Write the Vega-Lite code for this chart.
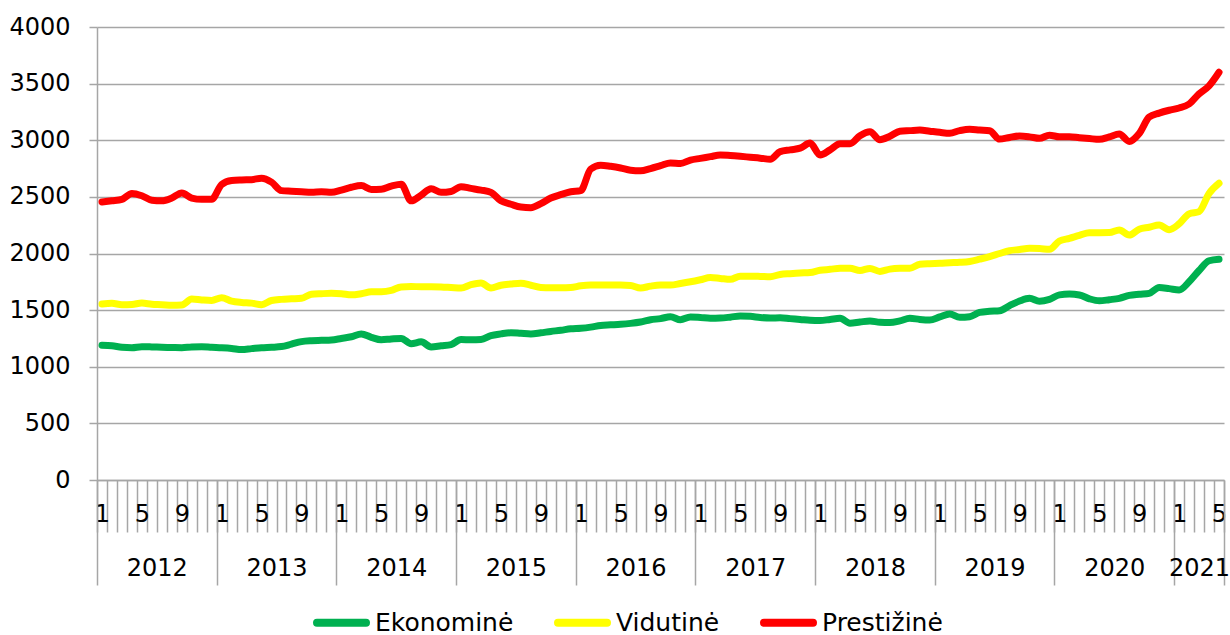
{
"$schema": "https://vega.github.io/schema/vega-lite/v6.json",
"width": 1127, "height": 453,
"autosize": {"type": "none"},
"padding": {"left": 97, "top": 27, "right": 6, "bottom": 155},
"background": "white",
"config": {"view": {"stroke": null}, "font": "DejaVu Sans"},
"data": {"values": [
{"d":"2012-01","Ekonominė":1190,"Vidutinė":1555,"Prestižinė":2455},
{"d":"2012-02","Ekonominė":1185,"Vidutinė":1560,"Prestižinė":2465},
{"d":"2012-03","Ekonominė":1172,"Vidutinė":1548,"Prestižinė":2478},
{"d":"2012-04","Ekonominė":1168,"Vidutinė":1550,"Prestižinė":2530},
{"d":"2012-05","Ekonominė":1177,"Vidutinė":1562,"Prestižinė":2510},
{"d":"2012-06","Ekonominė":1175,"Vidutinė":1552,"Prestižinė":2470},
{"d":"2012-07","Ekonominė":1172,"Vidutinė":1548,"Prestižinė":2465},
{"d":"2012-08","Ekonominė":1170,"Vidutinė":1542,"Prestižinė":2490},
{"d":"2012-09","Ekonominė":1168,"Vidutinė":1545,"Prestižinė":2535},
{"d":"2012-10","Ekonominė":1175,"Vidutinė":1598,"Prestižinė":2490},
{"d":"2012-11","Ekonominė":1177,"Vidutinė":1590,"Prestižinė":2478},
{"d":"2012-12","Ekonominė":1172,"Vidutinė":1585,"Prestižinė":2480},
{"d":"2013-01","Ekonominė":1168,"Vidutinė":1610,"Prestižinė":2610},
{"d":"2013-02","Ekonominė":1162,"Vidutinė":1580,"Prestižinė":2645},
{"d":"2013-03","Ekonominė":1152,"Vidutinė":1568,"Prestižinė":2650},
{"d":"2013-04","Ekonominė":1160,"Vidutinė":1562,"Prestižinė":2652},
{"d":"2013-05","Ekonominė":1168,"Vidutinė":1548,"Prestižinė":2665},
{"d":"2013-06","Ekonominė":1172,"Vidutinė":1585,"Prestižinė":2630},
{"d":"2013-07","Ekonominė":1178,"Vidutinė":1595,"Prestižinė":2555},
{"d":"2013-08","Ekonominė":1200,"Vidutinė":1600,"Prestižinė":2550},
{"d":"2013-09","Ekonominė":1222,"Vidutinė":1605,"Prestižinė":2545},
{"d":"2013-10","Ekonominė":1230,"Vidutinė":1640,"Prestižinė":2540},
{"d":"2013-11","Ekonominė":1233,"Vidutinė":1645,"Prestižinė":2545},
{"d":"2013-12","Ekonominė":1236,"Vidutinė":1648,"Prestižinė":2540},
{"d":"2014-01","Ekonominė":1250,"Vidutinė":1645,"Prestižinė":2560},
{"d":"2014-02","Ekonominė":1265,"Vidutinė":1635,"Prestižinė":2585},
{"d":"2014-03","Ekonominė":1290,"Vidutinė":1645,"Prestižinė":2600},
{"d":"2014-04","Ekonominė":1260,"Vidutinė":1662,"Prestižinė":2565},
{"d":"2014-05","Ekonominė":1238,"Vidutinė":1663,"Prestižinė":2567},
{"d":"2014-06","Ekonominė":1245,"Vidutinė":1675,"Prestižinė":2595},
{"d":"2014-07","Ekonominė":1250,"Vidutinė":1705,"Prestižinė":2612},
{"d":"2014-08","Ekonominė":1203,"Vidutinė":1708,"Prestižinė":2465},
{"d":"2014-09","Ekonominė":1220,"Vidutinė":1707,"Prestižinė":2515},
{"d":"2014-10","Ekonominė":1175,"Vidutinė":1707,"Prestižinė":2572},
{"d":"2014-11","Ekonominė":1185,"Vidutinė":1705,"Prestižinė":2540},
{"d":"2014-12","Ekonominė":1195,"Vidutinė":1700,"Prestižinė":2548},
{"d":"2015-01","Ekonominė":1240,"Vidutinė":1695,"Prestižinė":2590},
{"d":"2015-02","Ekonominė":1238,"Vidutinė":1725,"Prestižinė":2575},
{"d":"2015-03","Ekonominė":1240,"Vidutinė":1740,"Prestižinė":2560},
{"d":"2015-04","Ekonominė":1275,"Vidutinė":1695,"Prestižinė":2540},
{"d":"2015-05","Ekonominė":1290,"Vidutinė":1720,"Prestižinė":2465},
{"d":"2015-06","Ekonominė":1300,"Vidutinė":1730,"Prestižinė":2435},
{"d":"2015-07","Ekonominė":1295,"Vidutinė":1737,"Prestižinė":2410},
{"d":"2015-08","Ekonominė":1290,"Vidutinė":1720,"Prestižinė":2405},
{"d":"2015-09","Ekonominė":1300,"Vidutinė":1700,"Prestižinė":2440},
{"d":"2015-10","Ekonominė":1312,"Vidutinė":1698,"Prestižinė":2490},
{"d":"2015-11","Ekonominė":1322,"Vidutinė":1698,"Prestižinė":2520},
{"d":"2015-12","Ekonominė":1335,"Vidutinė":1700,"Prestižinė":2545},
{"d":"2016-01","Ekonominė":1340,"Vidutinė":1715,"Prestižinė":2555},
{"d":"2016-02","Ekonominė":1350,"Vidutinė":1722,"Prestižinė":2745},
{"d":"2016-03","Ekonominė":1365,"Vidutinė":1722,"Prestižinė":2780},
{"d":"2016-04","Ekonominė":1370,"Vidutinė":1722,"Prestižinė":2770},
{"d":"2016-05","Ekonominė":1375,"Vidutinė":1722,"Prestižinė":2755},
{"d":"2016-06","Ekonominė":1383,"Vidutinė":1718,"Prestižinė":2735},
{"d":"2016-07","Ekonominė":1395,"Vidutinė":1695,"Prestižinė":2730},
{"d":"2016-08","Ekonominė":1415,"Vidutinė":1712,"Prestižinė":2750},
{"d":"2016-09","Ekonominė":1425,"Vidutinė":1722,"Prestižinė":2775},
{"d":"2016-10","Ekonominė":1442,"Vidutinė":1722,"Prestižinė":2800},
{"d":"2016-11","Ekonominė":1415,"Vidutinė":1735,"Prestižinė":2795},
{"d":"2016-12","Ekonominė":1440,"Vidutinė":1750,"Prestižinė":2825},
{"d":"2017-01","Ekonominė":1435,"Vidutinė":1768,"Prestižinė":2840},
{"d":"2017-02","Ekonominė":1428,"Vidutinė":1788,"Prestižinė":2855},
{"d":"2017-03","Ekonominė":1430,"Vidutinė":1780,"Prestižinė":2870},
{"d":"2017-04","Ekonominė":1438,"Vidutinė":1772,"Prestižinė":2865},
{"d":"2017-05","Ekonominė":1448,"Vidutinė":1800,"Prestižinė":2858},
{"d":"2017-06","Ekonominė":1445,"Vidutinė":1800,"Prestižinė":2850},
{"d":"2017-07","Ekonominė":1435,"Vidutinė":1798,"Prestižinė":2842},
{"d":"2017-08","Ekonominė":1430,"Vidutinė":1795,"Prestižinė":2832},
{"d":"2017-09","Ekonominė":1433,"Vidutinė":1815,"Prestižinė":2900},
{"d":"2017-10","Ekonominė":1425,"Vidutinė":1822,"Prestižinė":2915},
{"d":"2017-11","Ekonominė":1418,"Vidutinė":1828,"Prestižinė":2930},
{"d":"2017-12","Ekonominė":1410,"Vidutinė":1832,"Prestižinė":2975},
{"d":"2018-01","Ekonominė":1408,"Vidutinė":1852,"Prestižinė":2870},
{"d":"2018-02","Ekonominė":1418,"Vidutinė":1860,"Prestižinė":2915},
{"d":"2018-03","Ekonominė":1428,"Vidutinė":1870,"Prestižinė":2970},
{"d":"2018-04","Ekonominė":1385,"Vidutinė":1869,"Prestižinė":2970},
{"d":"2018-05","Ekonominė":1395,"Vidutinė":1850,"Prestižinė":3040},
{"d":"2018-06","Ekonominė":1404,"Vidutinė":1868,"Prestižinė":3075},
{"d":"2018-07","Ekonominė":1392,"Vidutinė":1842,"Prestižinė":3005},
{"d":"2018-08","Ekonominė":1390,"Vidutinė":1862,"Prestižinė":3035},
{"d":"2018-09","Ekonominė":1405,"Vidutinė":1869,"Prestižinė":3080},
{"d":"2018-10","Ekonominė":1428,"Vidutinė":1870,"Prestižinė":3085},
{"d":"2018-11","Ekonominė":1418,"Vidutinė":1905,"Prestižinė":3090},
{"d":"2018-12","Ekonominė":1413,"Vidutinė":1910,"Prestižinė":3080},
{"d":"2019-01","Ekonominė":1440,"Vidutinė":1913,"Prestižinė":3070},
{"d":"2019-02","Ekonominė":1466,"Vidutinė":1918,"Prestižinė":3062},
{"d":"2019-03","Ekonominė":1437,"Vidutinė":1922,"Prestižinė":3085},
{"d":"2019-04","Ekonominė":1442,"Vidutinė":1930,"Prestižinė":3097},
{"d":"2019-05","Ekonominė":1480,"Vidutinė":1950,"Prestižinė":3090},
{"d":"2019-06","Ekonominė":1490,"Vidutinė":1972,"Prestižinė":3084},
{"d":"2019-07","Ekonominė":1495,"Vidutinė":2000,"Prestižinė":3010},
{"d":"2019-08","Ekonominė":1540,"Vidutinė":2025,"Prestižinė":3025},
{"d":"2019-09","Ekonominė":1580,"Vidutinė":2035,"Prestižinė":3037},
{"d":"2019-10","Ekonominė":1604,"Vidutinė":2046,"Prestižinė":3030},
{"d":"2019-11","Ekonominė":1578,"Vidutinė":2044,"Prestižinė":3017},
{"d":"2019-12","Ekonominė":1595,"Vidutinė":2037,"Prestižinė":3045},
{"d":"2020-01","Ekonominė":1635,"Vidutinė":2110,"Prestižinė":3030},
{"d":"2020-02","Ekonominė":1642,"Vidutinė":2134,"Prestižinė":3032},
{"d":"2020-03","Ekonominė":1634,"Vidutinė":2160,"Prestižinė":3023},
{"d":"2020-04","Ekonominė":1600,"Vidutinė":2184,"Prestižinė":3015},
{"d":"2020-05","Ekonominė":1582,"Vidutinė":2184,"Prestižinė":3008},
{"d":"2020-06","Ekonominė":1592,"Vidutinė":2185,"Prestižinė":3030},
{"d":"2020-07","Ekonominė":1604,"Vidutinė":2208,"Prestižinė":3055},
{"d":"2020-08","Ekonominė":1630,"Vidutinė":2163,"Prestižinė":2990},
{"d":"2020-09","Ekonominė":1640,"Vidutinė":2215,"Prestižinė":3060},
{"d":"2020-10","Ekonominė":1648,"Vidutinė":2232,"Prestižinė":3205},
{"d":"2020-11","Ekonominė":1700,"Vidutinė":2252,"Prestižinė":3240},
{"d":"2020-12","Ekonominė":1690,"Vidutinė":2210,"Prestižinė":3265},
{"d":"2021-01","Ekonominė":1678,"Vidutinė":2262,"Prestižinė":3285},
{"d":"2021-02","Ekonominė":1750,"Vidutinė":2350,"Prestižinė":3320},
{"d":"2021-03","Ekonominė":1850,"Vidutinė":2370,"Prestižinė":3410},
{"d":"2021-04","Ekonominė":1936,"Vidutinė":2530,"Prestižinė":3480},
{"d":"2021-05","Ekonominė":1950,"Vidutinė":2620,"Prestižinė":3600}
]},
"transform": [{"fold": ["Ekonominė", "Vidutinė", "Prestižinė"], "as": ["series", "value"]}],
"encoding": {
  "y": {"field": "value", "type": "quantitative",
    "scale": {"domain": [0, 4000]},
    "axis": {"title": null, "values": [0, 500, 1000, 1500, 2000, 2500, 3000, 3500, 4000], "format": "d",
      "grid": true, "gridColor": "#A6A6A6", "gridWidth": 1.5,
      "tickSize": 8, "tickColor": "#A6A6A6", "tickWidth": 1.5,
      "domainColor": "#A6A6A6", "domainWidth": 1.5,
      "labelFontSize": 24, "labelPadding": 19, "labelColor": "black"}}
},
"layer": [
  {
    "mark": {"type": "line", "strokeWidth": 7, "interpolate": "monotone", "strokeCap": "round", "strokeJoin": "round"},
    "encoding": {
      "x": {"field": "d", "type": "ordinal", "bandPosition": 0.5,
        "scale": {"type": "band", "paddingInner": 0, "paddingOuter": 0},
        "axis": {"orient": "bottom", "offset": 0, "title": null, "grid": false,
          "tickBand": "extent", "tickSize": 52, "tickColor": "#A6A6A6", "tickWidth": 1.5,
          "domainColor": "#A6A6A6", "domainWidth": 1.5,
          "labelAngle": 0, "labelFontSize": 24, "labelColor": "black", "labelPadding": -30,
          "labelOverlap": false,
          "labelExpr": "substring(datum.value,5,7)=='01' ? '1' : (substring(datum.value,5,7)=='05' ? '5' : (substring(datum.value,5,7)=='09' ? '9' : ''))"}},
      "color": {"field": "series", "type": "nominal",
        "scale": {"domain": ["Ekonominė", "Vidutinė", "Prestižinė"], "range": ["#00B050", "#FFFF00", "#FF0000"]},
        "legend": {"orient": "none", "legendX": 216, "legendY": 567, "direction": "horizontal", "title": null,
          "symbolType": "stroke", "symbolSize": 2401, "symbolStrokeWidth": 8,
          "labelFontSize": 25, "labelOffset": 5, "columnPadding": 28, "labelColor": "black", "padding": 0, "labelLimit": 0,
          "encode": {"symbols": {"update": {"strokeCap": {"value": "round"}, "strokeWidth": {"value": 8}}}}}}
    }
  },
  {
    "mark": {"type": "line", "opacity": 0},
    "encoding": {
      "x": {"field": "d", "type": "ordinal", "bandPosition": 0.5,
        "axis": {"orient": "bottom", "offset": 0, "title": null, "grid": false, "domain": false,
          "tickBand": "extent", "tickSize": 105, "tickColor": "#A6A6A6", "tickWidth": 1.5,
          "tickOpacity": {"condition": {"test": "datum.extra || substring(datum.value,5,7)=='12' || datum.value=='2021-05'", "value": 1}, "value": 0},
          "labelAngle": 0, "labelFontSize": 24, "labelColor": "black", "labelPadding": -29,
          "labelOverlap": false,
          "labelOffset": {"condition": {"test": "datum.value=='2021-03'", "value": 0}, "value": -5},
          "labelExpr": "(substring(datum.value,5,7)=='07' || datum.value=='2021-03') ? substring(datum.value,0,4) : ''"}},
      "detail": {"field": "series"}
    }
  }
],
"resolve": {"axis": {"x": "independent"}}
}
